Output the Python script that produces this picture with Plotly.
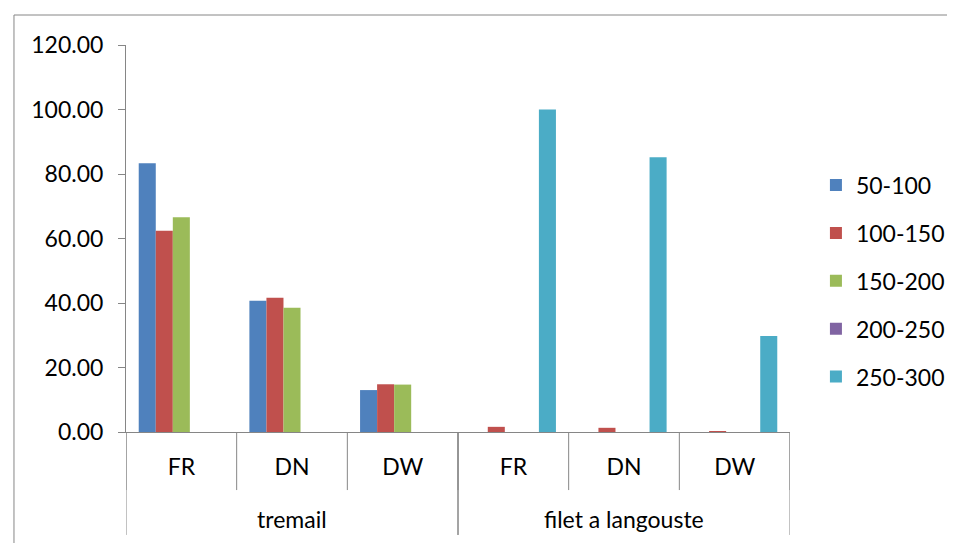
import plotly.graph_objects as go

# categories (two level axis)
gear = ["tremail", "filet a langouste"]
zone = ["FR", "DN", "DW", "FR", "DN", "DW"]
zone_gear = [0, 0, 0, 1, 1, 1]  # which gear each zone belongs to

# size classes and values
sizes = ["50-100", "100-150", "150-200", "200-250", "250-300"]
s_50_100 = [83.3, 40.7, 13.0, 0, 0, 0]
s_100_150 = [62.4, 41.6, 14.8, 1.6, 1.3, 0.3]
s_150_200 = [66.6, 38.5, 14.7, 0, 0, 0]
s_200_250 = [0, 0, 0, 0, 0, 0]
s_250_300 = [0, 0, 0, 100.0, 85.2, 29.8]

colors = ["#4f81bd", "#c0504d", "#9bbb59", "#8064a2", "#4bacc6"]
series = [s_50_100, s_100_150, s_150_200, s_200_250, s_250_300]

fnt = "Lato"
axis_col = "#868686"

# unique category keys so repeated zone names stay separate
keys = [gear[zone_gear[i]] + " " + zone[i] for i in range(len(zone))]

fig = go.Figure()

for i in range(len(sizes)):
    fig.add_trace(go.Bar(
        x=keys,
        y=series[i],
        name=sizes[i],
        legendgroup=sizes[i],
        marker=dict(color=colors[i], line=dict(width=0)),
    ))

fig.update_layout(
    width=955, height=543,
    margin=dict(l=118, r=173, t=37, b=119, autoexpand=False),
    plot_bgcolor="white",
    paper_bgcolor="white",
    font=dict(family=fnt, size=23, color="black"),
    barmode="group",
    bargap=0.23,
    bargroupgap=0,
    legend=dict(x=0.846, xref="container", y=0.39, yanchor="middle", xanchor="left",
                tracegroupgap=15, font=dict(size=23)),
)

fig.update_yaxes(
    range=[0, 120], dtick=20, tickformat=".2f",
    showgrid=False, zeroline=False,
    showline=True, linecolor=axis_col, linewidth=1,
    ticks="outside", ticklen=7, tickcolor=axis_col,
    ticklabelstandoff=10,
)

fig.update_xaxes(
    type="category",
    range=[-0.5, len(keys) - 0.5],
    tickmode="array", tickvals=keys, ticktext=zone,
    showgrid=False,
    showline=True, linecolor=axis_col, linewidth=1,
    ticks="", ticklabelstandoff=14,
)

# inner dividers (between zones)
for b in range(len(keys) + 1):
    fig.add_shape(type="line", xref="x", yref="paper",
                  x0=b - 0.5, x1=b - 0.5, y0=0, y1=-0.15,
                  line=dict(color=axis_col, width=1))

# outer dividers and gear labels
for g in range(len(gear)):
    idx = [i for i in range(len(keys)) if zone_gear[i] == g]
    for b in (idx[0] - 0.5, idx[-1] + 0.5):
        fig.add_shape(type="line", xref="x", yref="paper",
                      x0=b, x1=b, y0=0, y1=-0.266,
                      line=dict(color=axis_col, width=1))
    fig.add_annotation(x=(idx[0] + idx[-1]) / 2, xref="x",
                       y=-0.225, yref="paper", yanchor="middle",
                       text=gear[g], showarrow=False,
                       font=dict(family=fnt, size=23))

# chart area border
fig.add_shape(type="rect", xref="paper", yref="paper",
              x0=-0.1687, x1=1.4, y0=-0.5, y1=1.0775,
              line=dict(color=axis_col, width=1))

fig.write_html("out.html")
